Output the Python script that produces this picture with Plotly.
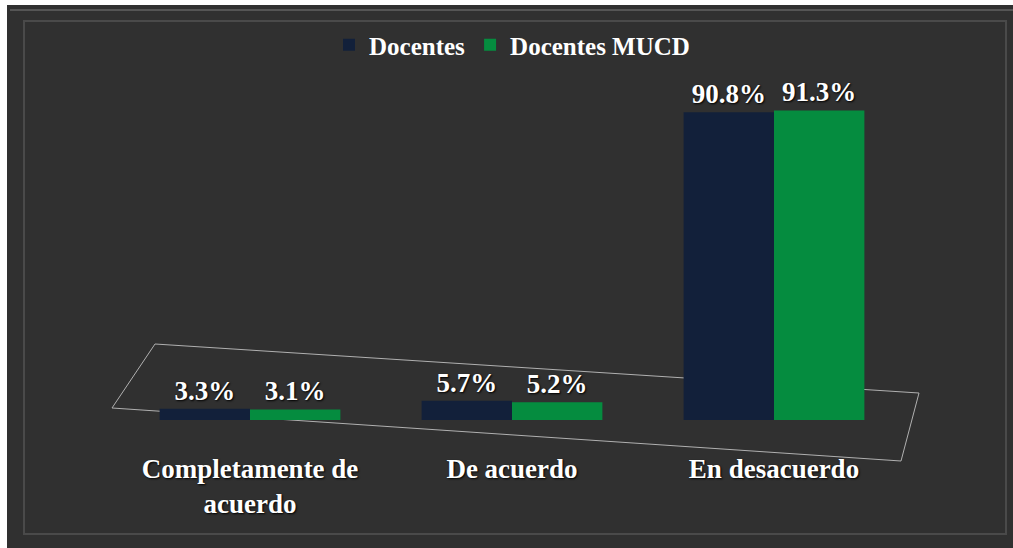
import plotly.graph_objects as go

categories = ["Completamente de<br>acuerdo", "De acuerdo", "En desacuerdo"]
docentes = [3.3, 5.7, 90.8]
docentes_mucd = [3.1, 5.2, 91.3]
series_names = ["Docentes", "Docentes MUCD"]

W, H = 1013, 548
L, R, T, B = 119, 108, 81, 128
PW, PH = W - L - R, H - T - B


def px(x):
    return (x - L) / PW


def py(y):
    return (H - B - y) / PH


FONT = "Liberation Serif"
navy = "#12203a"
green = "#058c3f"

fig = go.Figure()
for name, vals, col in [(series_names[0], docentes, navy), (series_names[1], docentes_mucd, green)]:
    fig.add_trace(go.Bar(
        name=name, x=categories, y=vals,
        marker=dict(color=col, line=dict(width=0)),
        text=[f"{v:.1f}%" for v in vals],
        textposition="outside", cliponaxis=False,
        textfont=dict(family=FONT, size=27, color="white", weight="bold",
                      shadow="1px 1px 2px #000"),
    ))

shapes = [
    # dark background panel
    dict(type="rect", xref="paper", yref="paper", x0=px(7), x1=px(1013), y0=py(548), y1=py(5),
         fillcolor="#303030", line=dict(width=0), layer="below"),
    # outer bevel top line
    dict(type="line", xref="paper", yref="paper", x0=px(10), x1=px(1013), y0=py(10), y1=py(10),
         line=dict(color="#555555", width=2), layer="below"),
    # inner bevel outline
    dict(type="rect", xref="paper", yref="paper", x0=px(24), x1=px(1006), y0=py(534), y1=py(21),
         fillcolor="rgba(0,0,0,0)", line=dict(color="#4a4a4a", width=2), layer="below"),
    # floor outline
    dict(type="path", xref="paper", yref="paper",
         path=f"M {px(155)},{py(344)} L {px(919)},{py(393)} L {px(901)},{py(461)} L {px(112)},{py(408)} Z",
         fillcolor="rgba(0,0,0,0)", line=dict(color="#b0b0b0", width=1), layer="below"),
]

fig.update_layout(
    width=W, height=H,
    margin=dict(l=L, r=R, t=T, b=B, autoexpand=False),
    paper_bgcolor="white",
    plot_bgcolor="rgba(0,0,0,0)",
    barmode="group", bargap=0.31, bargroupgap=0,
    shapes=shapes,
    showlegend=True,
    legend=dict(orientation="h", x=0.5, xanchor="center", y=py(45), yanchor="middle",
                font=dict(family=FONT, size=25, color="white", weight="bold"),
                bgcolor="rgba(0,0,0,0)", itemwidth=30, traceorder="normal"),
    xaxis=dict(showgrid=False, showline=False, zeroline=False, ticks="",
               tickfont=dict(family=FONT, size=27, color="white", weight="bold",
                             shadow="1px 1px 2px #000"),
               ticklabelstandoff=30),
    yaxis=dict(range=[0, 100], visible=False),
    font=dict(family=FONT, color="white"),
)

fig.write_html("out.html", config={"displayModeBar": False},
               post_script="document.body.style.margin='0';document.body.style.overflow='hidden';")
